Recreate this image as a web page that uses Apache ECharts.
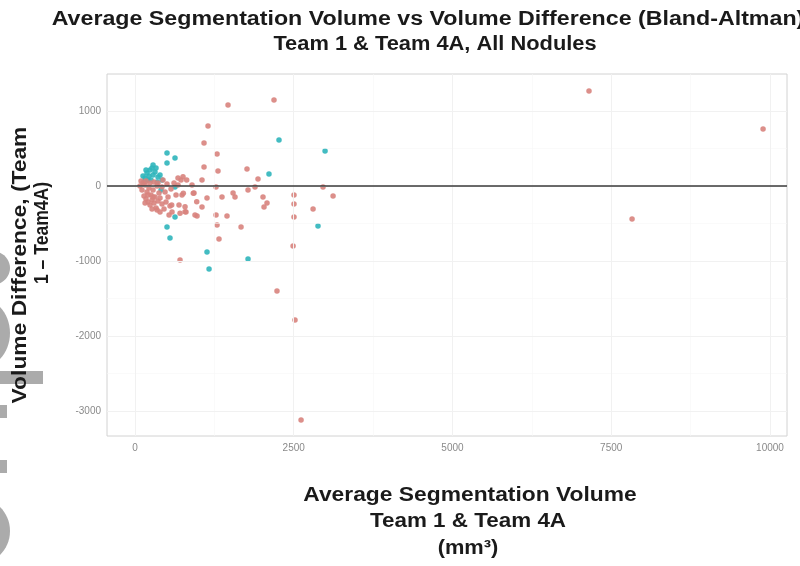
<!DOCTYPE html>
<html>
<head>
<meta charset="utf-8">
<script src="https://cdn.jsdelivr.net/npm/echarts@6/dist/echarts.min.js"></script>
<style>
  html, body { margin: 0; padding: 0; background: #fff; }
  #chart { width: 800px; height: 566px; }
</style>
</head>
<body>
<div id="chart"></div>
<script>
// Bland-Altman: average volume (mm^3) vs difference (Team 1 - Team 4A)
const groupA = [
  [1465,1080],[2189,1147],[1150,800],[1087,573],[1292,427],[1307,200],[1087,253],[1055,80],
  [1764,227],[1937,93],[1890,-13],[1276,-13],[898,13],[725,80],[2961,-13],[3119,-133],
  [2504,-120],[2504,-240],[2504,-413],[2804,-307],[2489,-800],[2016,-147],[2079,-227],[2032,-280],
  [1780,-53],[1575,-147],[1544,-93],[1370,-147],[1134,-160],[1055,-280],[1276,-387],[1449,-400],
  [1292,-520],[1323,-707],[1670,-547],[709,-987],[803,-347],[977,-400],[929,-93],[740,-120],
  [2236,-1400],[2520,-1787],[2615,-3120],[7150,1267],[9891,760],[7828,-440],
  [756,124],[814,80],[677,13],[788,-276],[972,-209],[578,-253],[709,-364],[945,-387],
  [788,-343],[761,-97],[918,-97],
  [79,0],[110,-53],[158,13],[189,-80],[220,-27],[252,-120],[284,-53],[315,-147],[347,0],
  [378,-93],[142,-133],[173,-173],[205,-213],[236,-253],[268,-187],[299,-227],[331,-293],
  [362,-200],[394,-160],[425,-240],[457,-307],[488,-213],[520,-147],[551,-267],[473,-80],
  [425,-13],[504,27],[567,-40],[614,40],[646,-120],[677,107],[583,-347],[95,67],[126,40],
  [173,67],[236,40],[299,53],[362,40],[441,80],[205,-120],[284,-147],[347,-320],[394,-347],
  [268,-307],[158,-227],[536,-387],[693,-253]
];
const groupB = [
  [2268,613],[2993,467],[504,440],[630,373],[504,307],[2110,160],[2882,-533],[1134,-880],
  [1166,-1107],[1780,-973],[551,-693],[504,-547],[630,-413],
  [189,173],[236,213],[315,187],[362,120],[158,107],[205,80],[425,80],[268,240],[220,133],
  [284,147],[126,133],[173,213],[331,240],[394,147],[252,80],[347,53],[142,53],[284,280],
  [410,-53],[630,-13]
];
const xTicks = [0, 2500, 5000, 7500, 10000];
const xMinor = [1250, 3750, 6250, 8750];
const yTicks = [-3000, -2000, -1000, 0, 1000];
const yMinor = [-2500, -1500, -500, 500];
const refLine = 0;

const FAMILY = 'Liberation Sans';
const chart = echarts.init(document.getElementById('chart'), null, { renderer: 'canvas' });

function gridLines(vals, axisKey, color, width) {
  return vals.map(v => ({ [axisKey]: v, lineStyle: { color: color, width: width, type: 'solid' } }));
}

function label(text, x, y, stretch, rot) {
  return {
    type: 'text', x: x, y: y, rotation: rot || 0, scaleX: stretch, z: 10,
    style: {
      text: text, fontFamily: FAMILY, fontWeight: 'bold', fontSize: 19.5, fill: '#1a1a1a',
      align: 'center', verticalAlign: 'middle'
    }
  };
}

const blob = { fill: '#ababab' };
const plain = v => String(v);

chart.setOption({
  animation: false,
  backgroundColor: '#ffffff',
  textStyle: { fontFamily: FAMILY },
  grid: {
    left: 107, right: 13, top: 74, bottom: 130,
    show: true, borderColor: '#d2d2d2', borderWidth: 1, backgroundColor: '#ffffff'
  },
  xAxis: {
    type: 'value', min: -441, max: 10268,
    axisLine: { show: false },
    splitLine: { show: false },
    axisTick: { show: true, customValues: xTicks, length: 3, lineStyle: { color: '#666' } },
    axisLabel: { customValues: xTicks, formatter: plain, color: '#8a8a8a', fontSize: 10, fontFamily: FAMILY, margin: 7 }
  },
  yAxis: {
    type: 'value', min: -3333, max: 1493,
    axisLine: { show: false },
    splitLine: { show: false },
    axisTick: { show: true, customValues: yTicks, length: 3, lineStyle: { color: '#666' } },
    axisLabel: { customValues: yTicks, formatter: plain, color: '#8a8a8a', fontSize: 10, fontFamily: FAMILY, margin: 6 }
  },
  series: [
    {
      type: 'scatter', data: [], silent: true,
      markLine: {
        silent: true, symbol: 'none', label: { show: false }, animation: false,
        data: [].concat(
          gridLines(xMinor, 'xAxis', '#f7f7f7', 0.6),
          gridLines(yMinor, 'yAxis', '#f7f7f7', 0.6),
          gridLines(xTicks, 'xAxis', '#f1f1f1', 1),
          gridLines(yTicks, 'yAxis', '#f1f1f1', 1)
        )
      }
    },
    {
      name: 'B', type: 'scatter', data: groupB, symbolSize: 5.5,
      itemStyle: { color: '#2fb5bb', opacity: 0.9 }
    },
    {
      name: 'A', type: 'scatter', data: groupA, symbolSize: 5.5,
      itemStyle: { color: '#d8837d', opacity: 0.9 },
      markLine: {
        silent: true, symbol: 'none', label: { show: false }, animation: false,
        data: [{ yAxis: refLine, lineStyle: { color: '#3a3a3a', width: 1.6, type: 'solid' } }]
      }
    }
  ],
  graphic: [
    { type: 'ellipse', shape: { cx: -8, cy: 268, rx: 18, ry: 17 }, style: blob, z: 1 },
    { type: 'ellipse', shape: { cx: -20, cy: 333, rx: 30, ry: 35 }, style: blob, z: 1 },
    { type: 'rect', shape: { x: 0, y: 371, width: 43, height: 13 }, style: blob, z: 1 },
    { type: 'rect', shape: { x: 0, y: 405, width: 7, height: 13 }, style: blob, z: 1 },
    { type: 'rect', shape: { x: 0, y: 460, width: 7, height: 13 }, style: blob, z: 1 },
    { type: 'ellipse', shape: { cx: -22, cy: 531, rx: 32, ry: 33 }, style: blob, z: 1 },
    label('Average Segmentation Volume vs Volume Difference (Bland-Altman)', 428, 20, 1.19),
    label('Team 1 & Team 4A, All Nodules', 435, 45, 1.12),
    label('Average Segmentation Volume', 470, 496, 1.17),
    label('Team 1 & Team 4A', 468, 522, 1.15),
    label('(mm\u00B3)', 468, 549, 1.12),
    label('Volume Difference, (Team', 21, 265, 1.17, Math.PI / 2),
    label('1 \u2013 Team4A)', 43, 233, 0.9, Math.PI / 2)
  ]
});
</script>
</body>
</html>
